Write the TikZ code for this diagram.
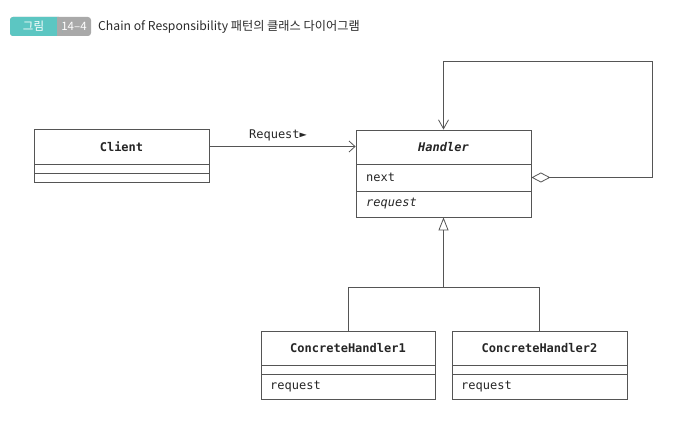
\documentclass[tikz,border=0pt]{standalone}
\usepackage{fontspec}
\setmonofont{DejaVu Sans Mono}
\newfontfamily\krfont{Noto Sans CJK KR}
\usetikzlibrary{arrows.meta}
\definecolor{linec}{HTML}{555555}
\definecolor{tealc}{HTML}{5CC6C2}
\definecolor{badgegray}{HTML}{A9A9A9}
\definecolor{titlec}{HTML}{2A2A2A}
\tikzset{
  classbox/.style={draw=linec, line width=0.8pt, fill=white, inner sep=0pt, anchor=center},
  divider/.style={draw=linec, line width=0.8pt},
  cname/.style={font=\ttfamily\fontsize{12}{14}\selectfont\bfseries, text=black!85, inner sep=0pt},
  cnameit/.style={font=\ttfamily\fontsize{12}{14}\selectfont\bfseries\itshape, text=black!85, inner sep=0pt},
  member/.style={font=\ttfamily\fontsize{12}{14}\selectfont, text=black!85, inner sep=0pt, anchor=west},
  memberit/.style={font=\ttfamily\fontsize{12}{14}\selectfont\itshape, text=black!85, inner sep=0pt, anchor=west},
  conn/.style={draw=linec, line width=0.8pt},
  assoc/.style={conn, -{Straight Barb[length=6pt,width=11pt,line width=0.8pt]}},
  gen/.style={conn, -{Triangle[open,length=13pt,width=10pt,line width=0.8pt]}},
  aggr/.style={conn, {Diamond[open,length=19pt,width=10pt,line width=0.8pt]}-{Straight Barb[length=9pt,width=10pt,line width=0.8pt]}},
  badgetext/.style={text=white, font=\krfont\fontsize{11.5}{12}\selectfont, inner sep=0pt},
}
\begin{document}
\begin{tikzpicture}[x=1pt,y=-1pt]
\useasboundingbox (0,0) rectangle (674,427);
% title
\fill[badgegray, rounded corners=3pt] (10,17) rectangle (91,36);
\fill[tealc, rounded corners=3pt] (10,17) rectangle (62,36);
\fill[badgegray] (57,17) rectangle (62,36);
\node[badgetext] (badgea) at (33.5,26.5) {그림};
\node[badgetext] (badgeb) at (74,26.5) {14–4};
\node[text=titlec, font=\krfont\fontsize{12.2}{14}\selectfont, inner sep=0pt, anchor=west] (title) at (98,26.5) {Chain of Responsibility 패턴의 클래스 다이어그램};
% Client
\node[classbox, minimum width=175pt, minimum height=53pt] (client) at (121.5,155.5) {};
\draw[divider] (34,164) -- (209,164);
\draw[divider] (34,173) -- (209,173);
\node[cname] (clientname) at (121.5,146.5) {Client};
% Handler
\node[classbox, minimum width=175pt, minimum height=87pt] (handler) at (443.5,173.5) {};
\draw[divider] (356,164) -- (531,164);
\draw[divider] (356,191) -- (531,191);
\node[cnameit] (handlername) at (443.5,147) {Handler};
\node[member] (hnext) at (366,177.5) {next};
\node[memberit] (hreq) at (366,204) {request};
% ConcreteHandler1
\node[classbox, minimum width=174pt, minimum height=68pt] (ch1) at (348,365) {};
\draw[divider] (261,365) -- (435,365);
\draw[divider] (261,374) -- (435,374);
\node[cname] (ch1name) at (348,348) {ConcreteHandler1};
\node[member] (ch1req) at (270,387) {request};
% ConcreteHandler2
\node[classbox, minimum width=175pt, minimum height=68pt] (ch2) at (539.5,365) {};
\draw[divider] (452,365) -- (627,365);
\draw[divider] (452,374) -- (627,374);
\node[cname] (ch2name) at (539.5,348) {ConcreteHandler2};
\node[member] (ch2req) at (461,387) {request};
% association
\draw[assoc] (clientname -| client.east) -- (clientname -| handler.west);
\node[font=\ttfamily\fontsize{12}{14}\selectfont, text=black!85, inner sep=0pt] (reqlabel) at (278,135) {Request►};
% self aggregation
\coordinate (looptop) at (652,61);
\draw[aggr] (hnext -| handler.east) -| (looptop) -| (handler.north);
% generalization
\coordinate (joint) at (443.5,287);
\draw[gen] (ch1.north) |- (joint) -- (handler.south);
\draw[conn] (ch2.north) |- (joint);
\end{tikzpicture}
\end{document}
